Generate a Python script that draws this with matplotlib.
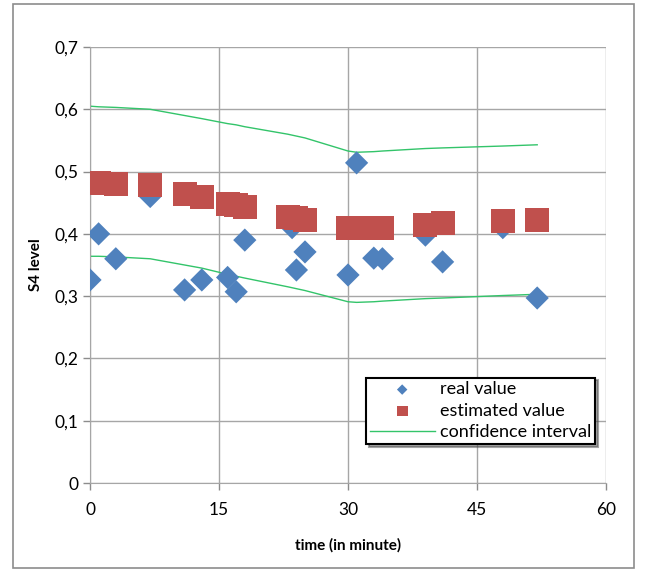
import numpy as np
import matplotlib
matplotlib.use("Agg")
from matplotlib import pyplot as plt
from matplotlib.patches import Rectangle

plt.rcParams['font.family'] = ['Lato', 'DejaVu Sans']

# real value (blue diamonds)
real_x = [0, 1, 3, 7, 11, 13, 16, 17, 18, 23, 23.5, 24, 25, 30, 31, 33, 34, 39, 41, 48, 52]
real_y = [0.326, 0.400, 0.360, 0.460, 0.310, 0.326, 0.330, 0.307, 0.390,
          0.425, 0.410, 0.342, 0.371, 0.334, 0.514, 0.361, 0.360, 0.398, 0.355, 0.410, 0.297]

# estimated value (red squares)
est_x = [0, 1, 3, 7, 11, 13, 16, 17, 18, 23, 24, 25, 30, 31, 33, 34, 39, 41, 48, 52]
est_y = [0.482, 0.481, 0.480, 0.478, 0.464, 0.459, 0.448, 0.446, 0.443, 0.427, 0.425, 0.422,
         0.409, 0.409, 0.410, 0.410, 0.414, 0.417, 0.420, 0.423]

# confidence interval bounds
ci_upper = [0.605, 0.604, 0.603, 0.600, 0.590, 0.585, 0.577, 0.575, 0.572, 0.560, 0.557, 0.554,
            0.533, 0.531, 0.532, 0.533, 0.537, 0.538, 0.541, 0.543]
ci_lower = [0.364, 0.364, 0.363, 0.360, 0.350, 0.345, 0.335, 0.332, 0.329, 0.315, 0.312, 0.309,
            0.291, 0.290, 0.291, 0.292, 0.296, 0.297, 0.301, 0.303]

x_ticks = [0, 15, 30, 45, 60]
y_ticks = [0, 0.1, 0.2, 0.3, 0.4, 0.5, 0.6, 0.7]

fig = plt.figure(figsize=(6.48, 5.72), dpi=100)
ax = fig.add_axes([90/648, 1-483/572, 516/648, 436/572])

# outer chart frame
fig.patches.append(Rectangle((13/648, 4/572), 621/648, 564/572, transform=fig.transFigure,
                             fill=False, edgecolor='#8c8c8c', linewidth=1.2))

green = '#33c46a'
ax.plot(est_x, ci_upper, color=green, linewidth=1.0, zorder=2, label='confidence interval')
ax.plot(est_x, ci_lower, color=green, linewidth=1.0, zorder=2)
ax.scatter(real_x, real_y, marker='D', s=140, color='#4f81bd', edgecolors='none',
           zorder=3, label='real value')
ax.scatter(est_x, est_y, marker='s', s=300, color='#c0504d', edgecolors='none',
           zorder=4, label='estimated value')

ax.set_xlim(0, 60)
ax.set_ylim(0, 0.7)
ax.set_xticks(x_ticks)
ax.set_yticks(y_ticks)
ax.set_xticklabels([str(t) for t in x_ticks])
ax.set_yticklabels([('%.1f' % t).replace('.', ',') if t else '0' for t in y_ticks])
ax.tick_params(labelsize=12.5, colors='#8c8c8c', labelcolor='black', length=5, width=1)
ax.tick_params(axis='x', pad=9)
ax.grid(True, color='#a6a6a6', linewidth=1.0)
ax.set_axisbelow(True)
for s in ax.spines.values():
    s.set_color('#a6a6a6')
ax.spines['top'].set_visible(False)
ax.spines['right'].set_visible(False)

ax.set_xlabel('time (in minute)', fontsize=11, fontweight='bold', labelpad=14)
ax.set_ylabel('S4 level', fontsize=11, fontweight='bold', labelpad=8)

handles, labels = ax.get_legend_handles_labels()
order = [1, 2, 0]
leg = ax.legend([handles[i] for i in order], [labels[i] for i in order],
                loc='lower left', bbox_to_anchor=(0.535, 0.09), fontsize=13,
                frameon=True, fancybox=False, shadow=True, framealpha=1,
                borderpad=0.2, labelspacing=0.3, handlelength=3.6, handletextpad=0.3,
                markerscale=0.45, borderaxespad=0)
leg.get_frame().set_edgecolor('black')
leg.get_frame().set_linewidth(1.5)

fig.savefig('out.png', dpi=100)
